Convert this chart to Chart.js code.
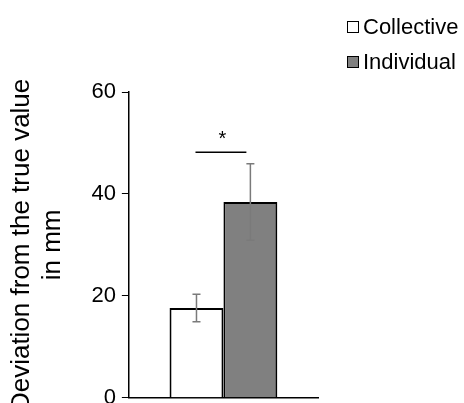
<!DOCTYPE html>
<html>
<head>
<meta charset="utf-8">
<script src="https://cdn.jsdelivr.net/npm/chart.js@4.4.0/dist/chart.umd.min.js"></script>
<style>
  body { margin: 0; background: #fff; }
  #wrap { position: relative; width: 464px; height: 403px; overflow: hidden; }
  #legend { position: absolute; left: 347px; top: 12px; font: 22px "Liberation Sans", Arial, sans-serif; color: #000; }
  .item { height: 35px; line-height: 30px; white-space: nowrap; }
  .box { display: inline-block; width: 10px; height: 10px; border: 1px solid #000; margin-right: 4px; vertical-align: 1px; }
</style>
</head>
<body>
<div id="wrap">
  <canvas id="chart" width="464" height="417"></canvas>
  <div id="legend"></div>
</div>
<script>
const groups = ["Collective", "Individual"];
const means = [17.6, 38.4];
const errors = [2.7, 7.5];
const fills = ["#ffffff", "#808080"];
const yTicks = [0, 20, 40, 60];
const sigLevel = 48.2;
const sigMark = "*";

const FONT = '"Liberation Sans", Arial, sans-serif';

// html legend
const legend = document.getElementById("legend");
groups.forEach((name, i) => {
  legend.innerHTML += `<div class="item"><span class="box" style="background:${fills[i]}"></span>${name}</div>`;
});

const errorBars = {
  id: "errorBars",
  afterDatasetsDraw(chart) {
    const ctx = chart.ctx;
    const y = chart.scales.y;
    const xs = [];
    ctx.save();
    chart.data.datasets.forEach((ds, i) => {
      const bar = chart.getDatasetMeta(i).data[0];
      xs.push(bar.x);
      const top = y.getPixelForValue(means[i] + errors[i]);
      const bottom = y.getPixelForValue(means[i] - errors[i]);
      ctx.strokeStyle = "#7a7a7a";
      ctx.lineWidth = 1.5;
      ctx.beginPath();
      ctx.moveTo(bar.x, top);
      ctx.lineTo(bar.x, bottom);
      ctx.moveTo(bar.x - 4, top);
      ctx.lineTo(bar.x + 4, top);
      ctx.moveTo(bar.x - 4, bottom);
      ctx.lineTo(bar.x + 4, bottom);
      ctx.stroke();
    });
    // significance bracket
    const sy = y.getPixelForValue(sigLevel);
    ctx.strokeStyle = "#000";
    ctx.lineWidth = 1.5;
    ctx.beginPath();
    ctx.moveTo(xs[0] - 1, sy);
    ctx.lineTo(xs[1] - 4, sy);
    ctx.stroke();
    ctx.fillStyle = "#000";
    ctx.font = "20px " + FONT;
    ctx.textAlign = "center";
    ctx.textBaseline = "middle";
    ctx.fillText(sigMark, (xs[0] + xs[1]) / 2 - 1, sy - 13);
    ctx.restore();
  },
};

new Chart(document.getElementById("chart"), {
  type: "bar",
  data: {
    labels: [""],
    datasets: groups.map((name, i) => ({
      label: name,
      data: [means[i]],
      backgroundColor: fills[i],
      borderColor: "#000",
      borderWidth: 2,
      categoryPercentage: 0.57,
      barPercentage: 1.0,
    })),
  },
  options: {
    responsive: false,
    animation: false,
    layout: { padding: { top: 92, right: 146, bottom: 0, left: 0 } },
    plugins: {
      legend: { display: false },
      tooltip: { enabled: false },
    },
    scales: {
      x: {
        grid: { display: false },
        border: { color: "#000", width: 1.5 },
        ticks: { display: false },
      },
      y: {
        min: 0,
        max: 60,
        afterBuildTicks: (axis) => {
          axis.ticks = yTicks.map((v) => ({ value: v }));
        },
        grid: { drawOnChartArea: false, color: "#000", tickLength: 7 },
        border: { color: "#000", width: 1.5 },
        ticks: { color: "#000", font: { family: FONT, size: 22 }, padding: 6 },
        title: {
          display: true,
          text: ["Deviation from the true value", "in mm"],
          color: "#000",
          font: { family: FONT, size: 26, lineHeight: 1.2 },
          padding: { top: 6, bottom: 17 },
        },
      },
    },
  },
  plugins: [errorBars],
});
</script>
</body>
</html>
